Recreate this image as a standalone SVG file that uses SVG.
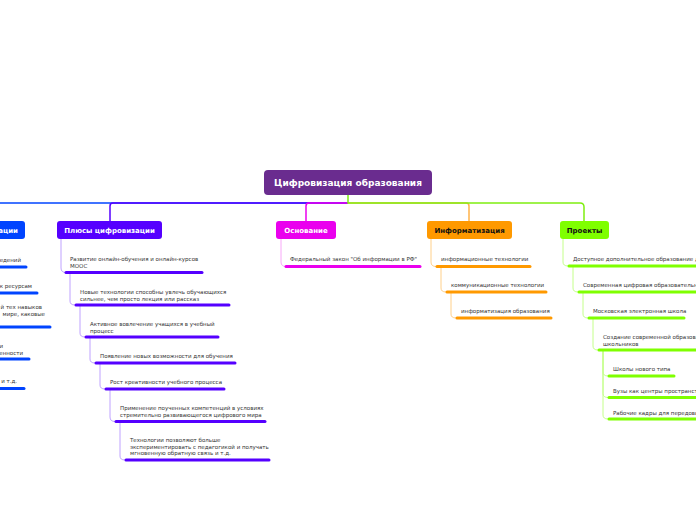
<svg xmlns="http://www.w3.org/2000/svg" width="696" height="520" viewBox="0 0 696 520">
<style>
.t{font-family:"DejaVu Sans",Verdana,sans-serif;font-size:5.5px;fill:#333}
.h{font-family:"DejaVu Sans",Verdana,sans-serif;font-size:7px;font-weight:bold}
.c{fill:none;stroke-width:1}
.u{stroke-width:3;stroke-linecap:round}
.top{fill:none;stroke-width:1.5}
</style>
<rect width="696" height="520" fill="#fff"/>
<g id="connectors">
<path class="top" stroke="#0044FF" d="M348,203 H-30"/>
<path class="top" stroke="#5500FF" d="M348,203 H113 Q110,203 110,206 V221"/>
<path class="top" stroke="#EA00EE" d="M348,203 H309 Q306,203 306,206 V221"/>
<path class="top" stroke="#FFB24A" d="M348,203 H466 Q469,203 469,206 V221"/>
<path class="top" stroke="#7FEE10" d="M348,195 V203 H580 Q584,203 584,207 V221"/>
<g stroke="#BFA2FF" class="c">
<path d="M61,239 V268 Q61,272.5 66,272.5"/>
<path d="M70,274 V301 Q70,305 75,305"/>
<path d="M80,306 V333 Q80,337 85,337"/>
<path d="M90,338 V359 Q90,363 95,363"/>
<path d="M100,364 V385 Q100,389 105,389"/>
<path d="M110,390 V417 Q110,421.5 115,421.5"/>
<path d="M120,423 V456 Q120,460 125,460"/>
</g>
<g stroke="#F8A8F8" class="c">
<path d="M281,239 V262 Q281,266.5 286,266.5"/>
</g>
<g stroke="#FFD08A" class="c">
<path d="M431,239 V262 Q431,266.5 436,266.5"/>
<path d="M441,268 V288 Q441,292 446,292"/>
<path d="M451,293 V314 Q451,318 456,318"/>
</g>
<g stroke="#C4FF8A" class="c">
<path d="M563,239 V262 Q563,266 568,266"/>
<path d="M573,267 V288 Q573,292 578,292"/>
<path d="M583,293 V314 Q583,318 588,318"/>
<path d="M593,319 V346 Q593,350 598,350"/>
<path d="M603,351 V372 Q603,376 608,376"/>
<path d="M603,351 V393.5 Q603,397.5 608,397.5"/>
<path d="M603,351 V415 Q603,419 608,419"/>
</g>
</g>
<g id="root">
<rect x="264" y="170" width="168" height="25" rx="4" fill="#6A2C8F"/>
<text x="348" y="186.2" text-anchor="middle" font-family="DejaVu Sans, Verdana, sans-serif" font-size="9" font-weight="bold" fill="#fff">Цифровизация образования</text>
</g>
<g id="minus">
<rect x="-80" y="221" width="105" height="18" rx="3" fill="#0044FF"/>
<text class="h" x="18" y="232.5" text-anchor="end" fill="#fff">Минусы цифровизации</text>
</g>
<g id="minus-1"><text class="t" x="21" y="262" text-anchor="end">едений</text><line class="u" stroke="#0044FF" x1="-20" y1="267" x2="26" y2="267"/></g>
<g id="minus-2"><text class="t" x="32" y="288" text-anchor="end">к ресурсам</text><line class="u" stroke="#0044FF" x1="-20" y1="293" x2="37" y2="293"/></g>
<g id="minus-3"><text class="t" text-anchor="end"><tspan x="42" y="309">й тех навыков</tspan><tspan x="45" y="315.5">мире, каковые</tspan></text><line class="u" stroke="#0044FF" x1="-20" y1="327" x2="50" y2="327"/></g>
<g id="minus-4"><text class="t" text-anchor="end"><tspan x="3" y="348">и</tspan><tspan x="23" y="354.5">енности</tspan></text><line class="u" stroke="#0044FF" x1="-20" y1="359" x2="29" y2="359"/></g>
<g id="minus-5"><text class="t" x="17" y="383" text-anchor="end">и т.д.</text><line class="u" stroke="#0044FF" x1="-20" y1="388.5" x2="24" y2="388.5"/></g>
<g id="plus">
<rect x="57" y="221" width="105" height="18" rx="3" fill="#5500FF"/>
<text class="h" x="109.5" y="232.5" text-anchor="middle" fill="#fff">Плюсы цифровизации</text>
</g>
<g id="plus-1"><text class="t"><tspan x="70" y="261">Развитие онлайн-обучения и онлайн-курсов</tspan><tspan x="70" y="267.5">MOOC</tspan></text><line class="u" stroke="#5500FF" x1="66" y1="272.5" x2="202" y2="272.5"/></g>
<g id="plus-2"><text class="t"><tspan x="80" y="294">Новые технологии способны увлечь обучающихся</tspan><tspan x="80" y="300.5">сильнее, чем просто лекция или рассказ</tspan></text><line class="u" stroke="#5500FF" x1="76" y1="305" x2="229" y2="305"/></g>
<g id="plus-3"><text class="t"><tspan x="90" y="326">Активное вовлечение учащихся в учебный</tspan><tspan x="90" y="332.5">процесс</tspan></text><line class="u" stroke="#5500FF" x1="86" y1="337" x2="218" y2="337"/></g>
<g id="plus-4"><text class="t" x="100" y="358">Появление новых возможности для обучения</text><line class="u" stroke="#5500FF" x1="96" y1="363" x2="235" y2="363"/></g>
<g id="plus-5"><text class="t" x="110" y="384">Рост креативности учебного процесса</text><line class="u" stroke="#5500FF" x1="106" y1="389" x2="224" y2="389"/></g>
<g id="plus-6"><text class="t"><tspan x="120" y="410">Применение поученных компетенций в условиях</tspan><tspan x="120" y="416.5">стремительно развивающегося цифрового мира</tspan></text><line class="u" stroke="#5500FF" x1="116" y1="421.5" x2="265" y2="421.5"/></g>
<g id="plus-7"><text class="t"><tspan x="130" y="442">Технологии позволяют больше</tspan><tspan x="130" y="448.5">экспериментировать с педагогикой и получать</tspan><tspan x="130" y="455">мгновенную обратную связь и т.д.</tspan></text><line class="u" stroke="#5500FF" x1="126" y1="460" x2="269" y2="460"/></g>
<g id="osnovanie">
<rect x="276" y="221" width="60" height="18" rx="3" fill="#EA00EE"/>
<text class="h" x="306" y="232.5" text-anchor="middle" fill="#fff">Основание</text>
</g>
<g id="osn-1"><text class="t" x="290" y="261">Федеральный закон "Об информации в РФ"</text><line class="u" stroke="#EA00EE" x1="286" y1="266.5" x2="420" y2="266.5"/></g>
<g id="inform">
<rect x="427" y="221" width="85" height="18" rx="3" fill="#FF9900"/>
<text class="h" x="469.5" y="232.5" text-anchor="middle" fill="#111">Информатизация</text>
</g>
<g id="inf-1"><text class="t" x="441" y="261">информационные технологии</text><line class="u" stroke="#FF9900" x1="437" y1="266.5" x2="530" y2="266.5"/></g>
<g id="inf-2"><text class="t" x="451" y="287">коммуникационные технологии</text><line class="u" stroke="#FF9900" x1="447" y1="292" x2="546" y2="292"/></g>
<g id="inf-3"><text class="t" x="461" y="313">информатизация образования</text><line class="u" stroke="#FF9900" x1="457" y1="318" x2="551" y2="318"/></g>
<g id="proekty">
<rect x="560" y="221" width="49" height="18" rx="3" fill="#7FFF00"/>
<text class="h" x="584.5" y="232.5" text-anchor="middle" fill="#111">Проекты</text>
</g>
<g id="pr-1"><text class="t" x="573" y="261">Доступное дополнительное образование для детей</text><line class="u" stroke="#7FFF00" x1="569" y1="266" x2="720" y2="266"/></g>
<g id="pr-2"><text class="t" x="583" y="287">Современная цифровая образовательная среда</text><line class="u" stroke="#7FFF00" x1="579" y1="292" x2="720" y2="292"/></g>
<g id="pr-3"><text class="t" x="593" y="313">Московская электронная школа</text><line class="u" stroke="#7FFF00" x1="589" y1="318" x2="684" y2="318"/></g>
<g id="pr-4"><text class="t"><tspan x="603" y="339">Создание современной образовательной среды для</tspan><tspan x="603" y="345.5">школьников</tspan></text><line class="u" stroke="#7FFF00" x1="599" y1="350" x2="720" y2="350"/></g>
<g id="pr-5"><text class="t" x="613" y="371">Школы нового типа</text><line class="u" stroke="#7FFF00" x1="609" y1="376" x2="674" y2="376"/></g>
<g id="pr-6"><text class="t" x="613" y="393">Вузы как центры пространства создания инноваций</text><line class="u" stroke="#7FFF00" x1="609" y1="397.5" x2="720" y2="397.5"/></g>
<g id="pr-7"><text class="t" x="613" y="415">Рабочие кадры для передовых технологий</text><line class="u" stroke="#7FFF00" x1="609" y1="419" x2="720" y2="419"/></g>
</svg>
